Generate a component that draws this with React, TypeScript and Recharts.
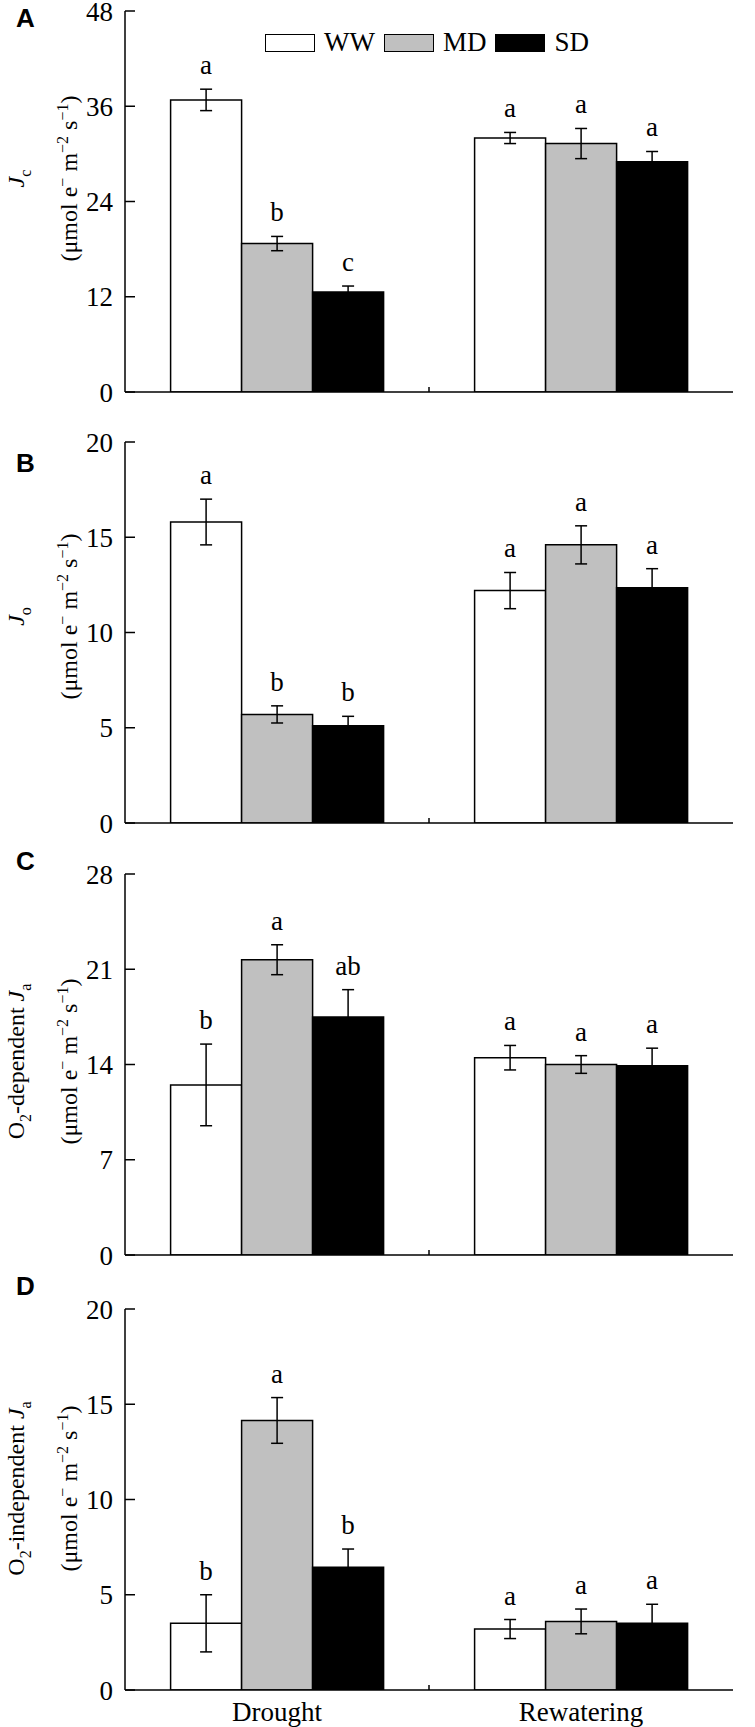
import React from "react";
import {
  Bar,
  BarChart,
  ErrorBar,
  LabelList,
  Legend,
  ReferenceLine,
  XAxis,
  YAxis,
} from "recharts";

const categories = ["Drought", "Rewatering"];
const seriesNames = ["WW", "MD", "SD"];
const seriesFills = ["#ffffff", "#c0c0c0", "#000000"];

// A: Jc
const jcTicks = [0, 12, 24, 36, 48];
const jcWW = [36.8, 32.0];
const jcMD = [18.7, 31.3];
const jcSD = [12.6, 29.0];
const jcWWErr = [1.35, 0.7];
const jcMDErr = [0.9, 1.9];
const jcSDErr = [0.75, 1.3];
const jcWWLetters = ["a", "a"];
const jcMDLetters = ["b", "a"];
const jcSDLetters = ["c", "a"];

// B: Jo
const joTicks = [0, 5, 10, 15, 20];
const joWW = [15.8, 12.2];
const joMD = [5.7, 14.6];
const joSD = [5.1, 12.35];
const joWWErr = [1.2, 0.95];
const joMDErr = [0.45, 1.0];
const joSDErr = [0.5, 1.0];
const joWWLetters = ["a", "a"];
const joMDLetters = ["b", "a"];
const joSDLetters = ["b", "a"];

// C: O2-dependent Ja
const depTicks = [0, 7, 14, 21, 28];
const depWW = [12.5, 14.5];
const depMD = [21.7, 14.0];
const depSD = [17.5, 13.9];
const depWWErr = [3.0, 0.9];
const depMDErr = [1.1, 0.65];
const depSDErr = [2.0, 1.3];
const depWWLetters = ["b", "a"];
const depMDLetters = ["a", "a"];
const depSDLetters = ["ab", "a"];

// D: O2-independent Ja
const indTicks = [0, 5, 10, 15, 20];
const indWW = [3.5, 3.2];
const indMD = [14.15, 3.6];
const indSD = [6.45, 3.5];
const indWWErr = [1.5, 0.5];
const indMDErr = [1.2, 0.65];
const indSDErr = [0.95, 1.0];
const indWWLetters = ["b", "a"];
const indMDLetters = ["a", "a"];
const indSDLetters = ["b", "a"];

const SERIF = '"Liberation Serif", "Times New Roman", serif';
const SANS = '"Liberation Sans", Arial, sans-serif';
const CHART_W = 755;
const CHART_H = 428;
const TOP = 10;
const X_H = 37;
const PLOT_H = CHART_H - TOP - X_H;
const FS = 27;
const TFS = 24;
const SFS = 16;

type Seg = { t: string; it?: boolean; sub?: boolean };

const panels = [
  {
    letter: "A", top: 1, ticks: jcTicks, titleShift: -23,
    vals: [jcWW, jcMD, jcSD], errs: [jcWWErr, jcMDErr, jcSDErr],
    letters: [jcWWLetters, jcMDLetters, jcSDLetters],
    title: [{ t: "J", it: true }, { t: "c", sub: true }] as Seg[],
  },
  {
    letter: "B", top: 432, ticks: joTicks, titleShift: -16,
    vals: [joWW, joMD, joSD], errs: [joWWErr, joMDErr, joSDErr],
    letters: [joWWLetters, joMDLetters, joSDLetters],
    title: [{ t: "J", it: true }, { t: "o", sub: true }] as Seg[],
  },
  {
    letter: "C", top: 864, ticks: depTicks, titleShift: -3,
    vals: [depWW, depMD, depSD], errs: [depWWErr, depMDErr, depSDErr],
    letters: [depWWLetters, depMDLetters, depSDLetters],
    title: [
      { t: "O" }, { t: "2", sub: true }, { t: "-dependent " },
      { t: "J", it: true }, { t: "a", sub: true },
    ] as Seg[],
  },
  {
    letter: "D", top: 1299, ticks: indTicks, titleShift: -11,
    vals: [indWW, indMD, indSD], errs: [indWWErr, indMDErr, indSDErr],
    letters: [indWWLetters, indMDLetters, indSDLetters],
    title: [
      { t: "O" }, { t: "2", sub: true }, { t: "-independent " },
      { t: "J", it: true }, { t: "a", sub: true },
    ] as Seg[],
  },
];

const keys = ["ww", "md", "sd"];

const YTitle = ({ viewBox, title, shift }: any) => {
  const vb = viewBox || { y: TOP, height: PLOT_H };
  const cy = vb.y + vb.height / 2 + shift;
  const x1 = 24;
  const x2 = 77;
  let shifted = false;
  const first = title.map((s: Seg, i: number) => {
    let dy = 0;
    if (s.sub && !shifted) { dy = 7; shifted = true; }
    else if (!s.sub && shifted) { dy = -7; shifted = false; }
    return (
      <tspan key={i} dy={dy} fontSize={s.sub ? SFS : TFS} fontStyle={s.it ? "italic" : "normal"}>
        {s.t}
      </tspan>
    );
  });
  return (
    <g fill="#000" fontFamily={SERIF}>
      <text transform={`rotate(-90, ${x1}, ${cy})`} x={x1} y={cy} textAnchor="middle" fontSize={TFS}>
        {first}
      </text>
      <text transform={`rotate(-90, ${x2}, ${cy})`} x={x2} y={cy} textAnchor="middle" fontSize={TFS}>
        <tspan>(μmol e</tspan>
        <tspan dy={-9} fontSize={SFS}>{"\u2212"}</tspan>
        <tspan dy={9}> m</tspan>
        <tspan dy={-9} fontSize={SFS}>{"\u22122"}</tspan>
        <tspan dy={9}> s</tspan>
        <tspan dy={-9} fontSize={SFS}>{"\u22121"}</tspan>
        <tspan dy={9}>)</tspan>
      </text>
    </g>
  );
};

const letterLabel = (vals: number[], errs: number[], letters: string[]) => (props: any) => {
  const { x, y, width, height, index } = props;
  const v = vals[index];
  const ppu = v ? height / v : 0;
  const errTop = y - errs[index] * ppu;
  return (
    <text x={x + width / 2} y={errTop - 15} textAnchor="middle" fontSize={FS} fill="#000" fontFamily={SERIF}>
      {letters[index]}
    </text>
  );
};

const LegendContent = () => (
  <div style={{ display: "flex", alignItems: "center", fontSize: FS, lineHeight: "27px", fontFamily: SERIF, color: "#000" }}>
    {seriesNames.map((n, i) => (
      <div key={n} style={{ display: "flex", alignItems: "center", marginRight: 9 }}>
        <span
          style={{
            display: "inline-block",
            width: 48,
            height: 16,
            border: "1.5px solid #000",
            background: seriesFills[i],
            marginRight: 9,
          }}
        />
        <span>{n}</span>
      </div>
    ))}
  </div>
);

const Panel = ({ p, last, first }: any) => {
  const data = categories.map((c, i) => {
    const row: any = { cat: c };
    keys.forEach((k, s) => {
      row[k] = p.vals[s][i];
      row[k + "Err"] = p.errs[s][i];
    });
    return row;
  });
  const max = p.ticks[p.ticks.length - 1];
  return (
    <div style={{ position: "absolute", left: 0, top: p.top, width: CHART_W, height: CHART_H }}>
      <BarChart
        width={CHART_W}
        height={CHART_H}
        data={data}
        margin={{ top: TOP, right: 22, left: 0, bottom: 0 }}
        barCategoryGap="15%"
        barGap={0}
        style={{ fontFamily: SERIF }}
      >
        <XAxis
          dataKey="cat"
          height={X_H}
          axisLine={{ stroke: "#000", strokeWidth: 1.5 }}
          tickLine={false}
          tickSize={0}
          tickMargin={12}
          tick={last ? { fontSize: FS, fill: "#000", fontFamily: SERIF } : false}
          interval={0}
        />
        <XAxis
          xAxisId="top"
          dataKey="cat"
          orientation="top"
          height={0}
          axisLine={{ stroke: "#000", strokeWidth: 1.5 }}
          tickLine={false}
          tick={false}
        />
        <YAxis
          width={125}
          domain={[0, max]}
          ticks={p.ticks}
          interval={0}
          allowDataOverflow
          axisLine={{ stroke: "#000", strokeWidth: 1.5 }}
          tickLine={{ stroke: "#000", strokeWidth: 1.5 }}
          tickSize={-10}
          tickMargin={22}
          tick={{ fontSize: FS, fill: "#000", fontFamily: SERIF }}
          label={{
            content: (lp: any) => <YTitle viewBox={lp.viewBox} title={p.title} shift={p.titleShift} />,
          }}
        />
        <YAxis
          yAxisId="right"
          orientation="right"
          width={0}
          domain={[0, max]}
          axisLine={{ stroke: "#000", strokeWidth: 1.5 }}
          tickLine={false}
          tick={false}
        />
        <ReferenceLine
          x="Rewatering"
          position="start"
          stroke="#000"
          strokeWidth={1.5}
          strokeDasharray="5 2000"
        />
        {keys.map((k, s) => (
          <Bar
            key={k}
            dataKey={k}
            name={seriesNames[s]}
            fill={seriesFills[s]}
            stroke="#000"
            strokeWidth={1.5}
            isAnimationActive={false}
          >
            <ErrorBar dataKey={k + "Err"} width={6} stroke="#000" strokeWidth={1.5} direction="y" />
            <LabelList dataKey={k} content={letterLabel(p.vals[s], p.errs[s], p.letters[s])} />
          </Bar>
        ))}
        {first && (
          <Legend
            layout="horizontal"
            verticalAlign="middle"
            align="center"
            content={() => <LegendContent />}
            wrapperStyle={{ left: 265, top: 28, width: "auto", height: 27 }}
          />
        )}
      </BarChart>
    </div>
  );
};

export default function App() {
  return (
    <div
      style={{
        position: "absolute",
        left: 0,
        top: 0,
        width: 755,
        height: 1727,
        overflow: "hidden",
        background: "#fff",
      }}
    >
      <style>{".recharts-surface{overflow:visible}"}</style>
      {panels.map((p, i) => (
        <React.Fragment key={p.letter}>
          <Panel p={p} first={i === 0} last={i === panels.length - 1} />
          <div
            style={{
              position: "absolute",
              left: 16,
              top: p.top + (i === 0 ? 4 : i === 1 ? 18 : i === 2 ? -16 : -26),
              fontFamily: SANS,
              fontWeight: "bold",
              fontSize: 26,
              lineHeight: 1,
              color: "#000",
            }}
          >
            {p.letter}
          </div>
        </React.Fragment>
      ))}
    </div>
  );
}
